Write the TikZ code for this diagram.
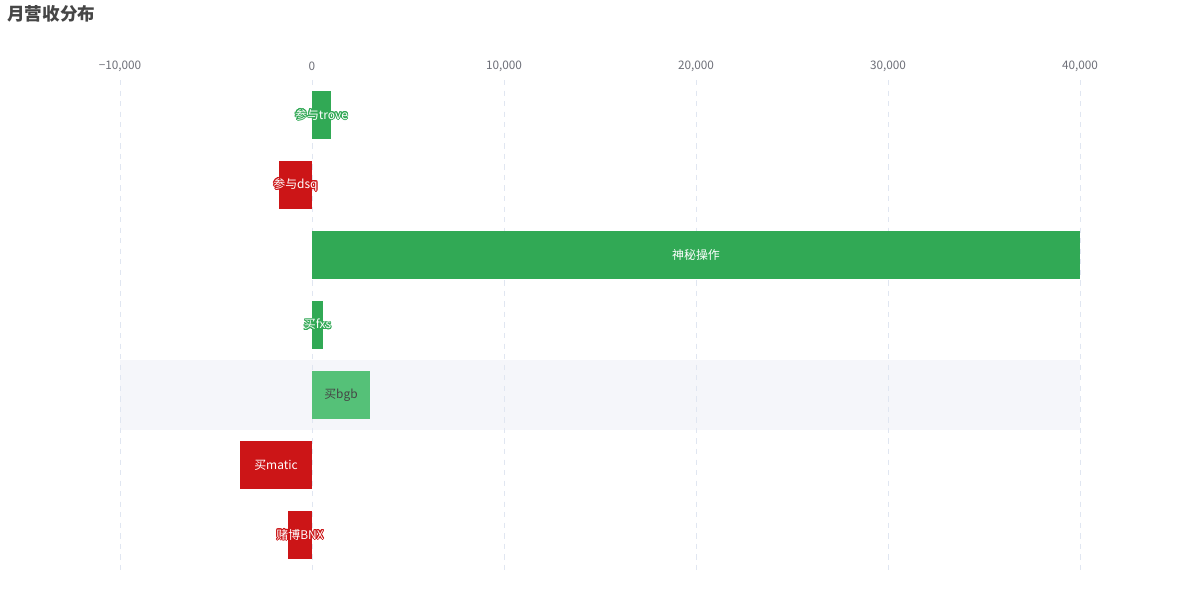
\documentclass[tikz,border=0pt]{standalone}
\usepackage{fontspec}
\setmainfont{Noto Sans CJK SC}
\usepackage{contour}
\contourlength{0.5pt}
\usepackage{tikz}

\definecolor{gain}{HTML}{31A955}
\definecolor{gainhi}{HTML}{55C178}
\definecolor{loss}{HTML}{CC1517}
\definecolor{gridc}{HTML}{E0E6F1}
\definecolor{axistxt}{HTML}{6E7079}
\definecolor{titletxt}{HTML}{464646}
\definecolor{hiband}{HTML}{F5F6FA}

\tikzset{
  grid line/.style={gridc, dashed, line width=0.5pt},
  tick label/.style={axistxt, font=\fontsize{6.7pt}{8pt}\selectfont, inner sep=0},
  bar label/.style={white, font=\fontsize{6.8pt}{8pt}\selectfont, inner sep=0},
}

\begin{document}
\begin{tikzpicture}[x=0.02cm, y=-0.02cm]
\useasboundingbox (0,0) rectangle (1200,600);
\fill[white] (0,0) rectangle (1200,600);

% title
\node[anchor=west, titletxt, inner sep=0, font=\fontsize{10pt}{12pt}\selectfont\bfseries] (title) at (7,14) {月营收分布};

% hovered row
\fill[hiband] (120,360) rectangle (1080,430);

% grid
\draw[grid line] (120,80) -- (120,570);
\draw[grid line] (312,80) -- (312,570);
\draw[grid line] (504,80) -- (504,570);
\draw[grid line] (696,80) -- (696,570);
\draw[grid line] (888,80) -- (888,570);
\draw[grid line] (1080,80) -- (1080,570);

% axis labels
\node[tick label] (tm10) at (120,66) {−10,000};
\node[tick label] (t0) at (312,66) {0};
\node[tick label] (t10) at (504,66) {10,000};
\node[tick label] (t20) at (696,66) {20,000};
\node[tick label] (t30) at (888,66) {30,000};
\node[tick label] (t40) at (1080,66) {40,000};

% bars
\fill[gain] (312,91) rectangle (331,139);
\fill[loss] (279,161) rectangle (312,209);
\fill[gain] (312,231) rectangle (1080,279);
\fill[gain] (312,301) rectangle (323,349);
\fill[gainhi] (312,371) rectangle (370,419);
\fill[loss] (240,441) rectangle (312,489);
\fill[loss] (288,511) rectangle (312,559);

% bar labels
\node[bar label] (trove) at (321.5,115) {\contour{gain}{参与trove}};
\node[bar label] (dsq) at (295.5,185) {\contour{loss}{参与dsq}};
\node[bar label] (mystery) at (696,255) {神秘操作};
\node[bar label] (fxs) at (317.5,325) {\contour{gain}{买fxs}};
\node[bar label, titletxt] (bgb) at (341,395) {买bgb};
\node[bar label] (matic) at (276,465) {买matic};
\node[bar label] (bnx) at (300,535) {\contour{loss}{赌博BNX}};
\end{tikzpicture}
\end{document}
